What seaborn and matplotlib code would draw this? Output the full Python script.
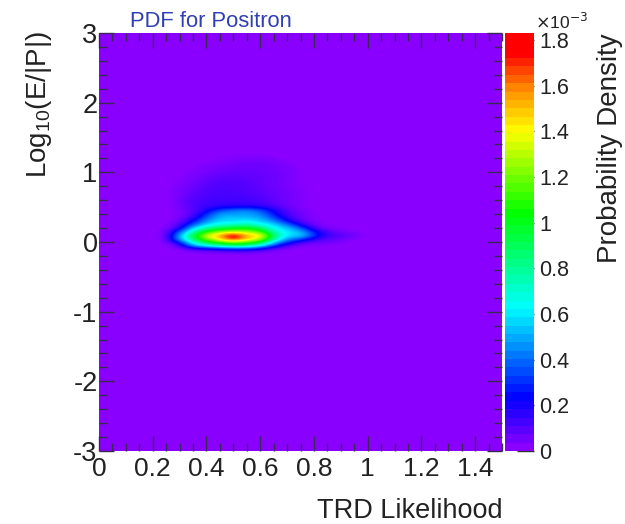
"""Recreates the positron PDF map: TRD likelihood vs Log10(E/|P|)."""

import numpy as np
import matplotlib
matplotlib.use("Agg")
import matplotlib.pyplot as plt
from matplotlib.colors import LinearSegmentedColormap
from matplotlib.ticker import MultipleLocator
import seaborn as sns

# density in units of 1e-3; everything else in the frame is ~0
# columns are TRD likelihood 0.25, 0.30 ... 0.95
LIKELIHOOD = [0.25, 0.30, 0.35, 0.40, 0.45, 0.50, 0.55, 0.60, 0.65, 0.70, 0.75, 0.80, 0.85, 0.90, 0.95]
LOG_EP = [1.25, 1.2, 1.15, 1.1, 1.05, 1.0, 0.95, 0.9, 0.85, 0.8, 0.75, 0.7, 0.65, 0.6, 0.55, 0.5,
          0.45, 0.4, 0.35, 0.3, 0.25, 0.2, 0.15, 0.1, 0.05, 0.0, -0.05, -0.1, -0.15]
DENSITY = [
    [0, 0, 0, 0, 0, 0.01, 0.01, 0.01, 0, 0, 0, 0, 0, 0, 0],
    [0, 0, 0, 0, 0.01, 0.02, 0.03, 0.03, 0.02, 0, 0, 0, 0, 0, 0],
    [0, 0, 0, 0.01, 0.02, 0.03, 0.04, 0.04, 0.03, 0.01, 0, 0, 0, 0, 0],
    [0, 0, 0.01, 0.02, 0.03, 0.04, 0.05, 0.05, 0.04, 0.02, 0, 0, 0, 0, 0],
    [0, 0, 0.01, 0.03, 0.04, 0.05, 0.05, 0.05, 0.04, 0.03, 0.01, 0, 0, 0, 0],
    [0, 0, 0.02, 0.03, 0.05, 0.06, 0.06, 0.05, 0.04, 0.03, 0.01, 0, 0, 0, 0],
    [0, 0.01, 0.03, 0.05, 0.07, 0.07, 0.07, 0.06, 0.05, 0.03, 0.01, 0, 0, 0, 0],
    [0, 0.01, 0.03, 0.06, 0.08, 0.08, 0.08, 0.06, 0.05, 0.03, 0.01, 0, 0, 0, 0],
    [0, 0.02, 0.04, 0.07, 0.09, 0.09, 0.08, 0.06, 0.05, 0.03, 0.01, 0, 0, 0, 0],
    [0, 0.02, 0.05, 0.08, 0.10, 0.10, 0.09, 0.07, 0.05, 0.03, 0.01, 0, 0, 0, 0],
    [0, 0.03, 0.06, 0.09, 0.10, 0.10, 0.09, 0.07, 0.05, 0.04, 0.01, 0, 0, 0, 0],
    [0, 0.03, 0.07, 0.10, 0.11, 0.10, 0.10, 0.08, 0.06, 0.04, 0.02, 0, 0, 0, 0],
    [0, 0.04, 0.08, 0.10, 0.11, 0.11, 0.11, 0.09, 0.06, 0.04, 0.02, 0, 0, 0, 0],
    [0, 0.04, 0.09, 0.11, 0.12, 0.12, 0.12, 0.10, 0.07, 0.04, 0.02, 0, 0, 0, 0],
    [0, 0.04, 0.10, 0.12, 0.13, 0.13, 0.13, 0.12, 0.08, 0.04, 0.02, 0, 0, 0, 0],
    [0, 0.03, 0.10, 0.14, 0.18, 0.20, 0.22, 0.18, 0.12, 0.06, 0.02, 0, 0, 0, 0],
    [0, 0.02, 0.08, 0.18, 0.35, 0.42, 0.45, 0.36, 0.20, 0.08, 0.03, 0.01, 0, 0, 0],
    [0, 0.02, 0.08, 0.28, 0.48, 0.46, 0.48, 0.44, 0.25, 0.10, 0.04, 0.01, 0, 0, 0],
    [0, 0.02, 0.14, 0.36, 0.52, 0.55, 0.52, 0.50, 0.33, 0.14, 0.05, 0.01, 0, 0, 0],
    [0, 0.04, 0.22, 0.46, 0.58, 0.55, 0.62, 0.55, 0.45, 0.24, 0.08, 0.02, 0, 0, 0],
    [0, 0.08, 0.36, 0.56, 0.68, 0.72, 0.78, 0.65, 0.58, 0.40, 0.18, 0.03, 0.01, 0, 0],
    [0.01, 0.14, 0.56, 0.78, 0.90, 1.00, 1.05, 0.90, 0.62, 0.55, 0.36, 0.10, 0.03, 0.01, 0],
    [0.02, 0.35, 0.74, 1.05, 1.25, 1.30, 1.25, 1.15, 0.72, 0.60, 0.50, 0.25, 0.08, 0.03, 0.01],
    [0.03, 0.47, 0.90, 1.35, 1.52, 1.85, 1.50, 1.45, 0.88, 0.56, 0.60, 0.30, 0.12, 0.09, 0.04],
    [0.03, 0.50, 0.90, 1.28, 1.48, 1.85, 1.50, 1.38, 0.82, 0.48, 0.40, 0.18, 0.09, 0.06, 0.02],
    [0.01, 0.28, 0.70, 0.98, 1.18, 1.30, 1.20, 1.05, 0.58, 0.30, 0.13, 0.06, 0.05, 0.02, 0],
    [0, 0.08, 0.50, 0.66, 0.80, 0.90, 0.85, 0.65, 0.32, 0.10, 0.03, 0.01, 0.01, 0, 0],
    [0, 0.01, 0.12, 0.17, 0.22, 0.27, 0.27, 0.20, 0.06, 0.01, 0, 0, 0, 0, 0],
    [0, 0, 0.01, 0.02, 0.03, 0.04, 0.04, 0.02, 0.01, 0, 0, 0, 0, 0, 0],
]

COLOR_TICKS = [0, 0.2, 0.4, 0.6, 0.8, 1, 1.2, 1.4, 1.6, 1.8]
COLOR_LABELS = ["0", "0.2", "0.4", "0.6", "0.8", "1", "1.2", "1.4", "1.6", "1.8"]
X_TICKS = [0, 0.2, 0.4, 0.6, 0.8, 1, 1.2, 1.4]
X_LABELS = ["0", "0.2", "0.4", "0.6", "0.8", "1", "1.2", "1.4"]
Y_TICKS = [-3, -2, -1, 0, 1, 2, 3]
VMAX = 1.83

# ROOT style rainbow: 50 levels on the colour bar, fine steps for the blurred image
RAINBOW_STOPS = [(0.0, "#8a00ff"), (0.12, "#0000ff"), (0.34, "#00ffff"), (0.57, "#00ff00"),
                 (0.77, "#ffff00"), (0.87, "#ff9000"), (0.96, "#ff0000"), (1.0, "#ff0000")]
rainbow = LinearSegmentedColormap.from_list("root_rainbow", RAINBOW_STOPS, N=50)
rainbow_fine = LinearSegmentedColormap.from_list("root_rainbow_fine", RAINBOW_STOPS, N=256)

sns.set_theme(style="white")
plt.rcParams["font.family"] = ["Liberation Sans", "DejaVu Sans"]

# full frame on a 0.05 grid, cell centres sit on round values
x_step = 0.05
y_step = 0.05
grid = np.zeros((121, 31))
for i, y_val in enumerate(LOG_EP):
    for j, x_val in enumerate(LIKELIHOOD):
        grid[round((3 - y_val) / y_step), round(x_val / x_step)] = DENSITY[i][j]


def to_col(x):
    return np.asarray(x) / x_step + 0.5


def to_row(y):
    return (3 - np.asarray(y)) / y_step + 0.5


fig = plt.figure(figsize=(6.25, 5.24), dpi=100)
ax = fig.add_axes([99 / 625, 1 - 451 / 524, 403 / 625, 418 / 524])
cax = fig.add_axes([505 / 625, 1 - 451 / 524, 29 / 625, 418 / 524])

sns.heatmap(grid, ax=ax, cbar_ax=cax, cmap=rainbow, vmin=0, vmax=VMAX,
            xticklabels=False, yticklabels=False)
# the original is a smoothed ROOT COLZ map, so put a smooth image over the cells
ax.imshow(grid, cmap=rainbow_fine, vmin=0, vmax=VMAX, aspect="auto", interpolation="bicubic",
          extent=(0, grid.shape[1], grid.shape[0], 0), zorder=2)
ax.set_xlim(to_col(0), to_col(1.5))
ax.set_ylim(to_row(-3), to_row(3))
ax.set_axisbelow(False)

ax.set_xticks(to_col(X_TICKS))
ax.set_xticklabels(X_LABELS, fontsize=19, color="#222222")
ax.set_yticks(to_row(Y_TICKS))
ax.set_yticklabels([str(v) for v in Y_TICKS], fontsize=19.5, color="#222222", rotation=0)
ax.xaxis.set_minor_locator(MultipleLocator(1, offset=0.5))
ax.yaxis.set_minor_locator(MultipleLocator(4, offset=0.5))
ax.tick_params(which="major", direction="in", length=11, width=1, color="#3a2a50",
               top=True, right=True, bottom=True, left=True)
ax.tick_params(which="minor", direction="in", length=6, width=1, color="#3a2a50",
               top=True, right=True, bottom=True, left=True)
ax.tick_params(axis="x", which="major", pad=4)
ax.tick_params(axis="y", which="major", pad=1)
for side in ax.spines.values():
    side.set_visible(False)

cbar = ax.collections[0].colorbar
cbar.set_ticks(COLOR_TICKS)
cbar.set_ticklabels(COLOR_LABELS, fontsize=15.5, color="#222222")
cax.tick_params(direction="in", length=12, width=1, color="#333333", right=True, pad=4)
cbar.outline.set_visible(False)

fig.text(130 / 625, 1 - 27 / 524, "PDF for Positron", color="#3040b0", fontsize=15.8)
fig.text(535 / 625, 1 - 29 / 524, r"$\times$10$^{-3}$", color="#222222", fontsize=12.5)
fig.text(503 / 625, 1 - 518 / 524, "TRD Likelihood", color="#222222", fontsize=19.5, ha="right")
fig.text(39 / 625, 1 - 105 / 524, r"Log$_{\mathdefault{10}}$(E/|P|)", color="#222222", fontsize=20,
         rotation=90, ha="center", va="center")
fig.text(610 / 625, 1 - 148 / 524, "Probability Density", color="#222222", fontsize=20,
         rotation=90, ha="center", va="center")

fig.savefig("out.png", dpi=100)
